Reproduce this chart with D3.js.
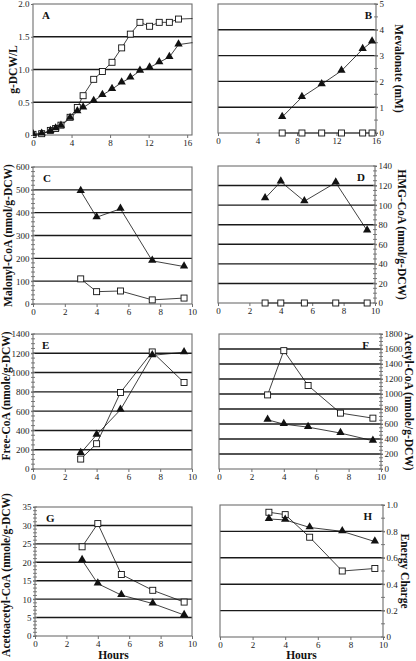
<!DOCTYPE html>
<html><head><meta charset="utf-8">
<script src="https://cdn.jsdelivr.net/npm/d3@7"></script>
<style>
html,body{margin:0;padding:0;background:#fff;}
svg{display:block;font-family:"Liberation Serif","Times New Roman",serif;}
</style></head>
<body>
<svg id="c" width="416" height="661"></svg>
<script>
// ---------- DATA ----------
const hoursA_sq = [0,0.9,1.8,2.35,2.9,3.85,4.6,5.2,6.3,7.2,8.2,9.2,10.1,11.1,12.1,13.1,14.15,15.1,17];
const dcwA_sq   = [0.01,0.02,0.07,0.1,0.15,0.27,0.42,0.6,0.85,0.97,1.11,1.33,1.54,1.72,1.66,1.72,1.72,1.77,1.78];
const hoursA_tri = [0,0.9,1.8,2.35,2.9,3.85,4.6,5.2,6.3,7.2,8.2,9.2,10.1,11.1,12.1,13.1,14.15,15.1,17];
const dcwA_tri   = [0.01,0.02,0.06,0.1,0.14,0.26,0.36,0.42,0.52,0.61,0.7,0.8,0.875,0.98,1.03,1.11,1.19,1.38,1.42];

const hoursB = [6.5,8.5,10.5,12.5,14.65,15.6];
const mevB_tri = [0.62,1.39,1.89,2.41,3.25,3.54];
const mevB_sq  = [0,0,0,0,0,0];

const hoursCoA = [3,4,5.5,7.5,9.5];
const malonyl_tri = [495,380,417,189,164];
const malonyl_sq  = [110,54,57,18,26];
const hmg_tri = [107,124,104,123,74];
const hmg_sq  = [0,0,0,0,0];
const freeCoA_tri = [165,355,614,1179,1210];
const freeCoA_sq  = [103,262,793,1214,897];
const acetyl_sq  = [988,1578,1113,745,678];
const acetyl_tri = [656,598,558,479,377];
const acetoacetyl_sq  = [24.2,30.5,16.7,12.4,9.2];
const acetoacetyl_tri = [20.6,14.2,11.1,8.8,5.7];
const energy_sq  = [0.945,0.927,0.756,0.50,0.519];
const energy_tri = [0.894,0.887,0.83,0.80,0.723];

const ticksA_x = [0,4,8,12,16], ticksA_y = [0,0.5,1.0,1.5,2.0];
const ticksA_ylab = ["0","0.5","1.0","1.5","2.0"];
const ticksB_y = [0,1,2,3,4,5];
const ticksHours = [0,2,4,6,8,10];
const ticksC_y = [0,100,200,300,400,500,600];
const ticksD_y = [0,20,40,60,80,100,120,140];
const ticksE_y = [0,200,400,600,800,1000,1200,1400];
const ticksF_y = [0,200,400,600,800,1000,1200,1400,1600,1800];
const ticksG_y = [0,5,10,15,20,25,30,35];
const ticksH_y = [0,0.2,0.4,0.6,0.8,1.0];
const ticksH_ylab = ["0","0.2","0.4","0.6","0.8","1.0"];

// ---------- PANELS ----------
const panels = [
 {id:"A", box:[33,192,4,135], xd:[0,16.5], yd:[0,2], xt:ticksA_x, yt:ticksA_y, ylab:ticksA_ylab, side:"left", minor:null,
  title:"g-DCW/L", tx:13, lx:9, series:[{x:hoursA_sq,y:dcwA_sq,m:"sq"},{x:hoursA_tri,y:dcwA_tri,m:"tri"}]},
 {id:"B", box:[218,376,4,133], xd:[0,16], yd:[0,5], xt:ticksA_x, yt:ticksB_y, side:"right", minor:0.5,
  title:"Mevalonate (mM)", tx:399, lx:4, series:[{x:hoursB,y:mevB_sq,m:"sq"},{x:hoursB,y:mevB_tri,m:"tri"}]},
 {id:"C", box:[33,192,167,304], xd:[0,10], yd:[0,600], xt:ticksHours, yt:ticksC_y, side:"left", minor:20,
  title:"Malonyl-CoA (nmol/g-DCW)", tx:8, lx:10, series:[{x:hoursCoA,y:malonyl_sq,m:"sq"},{x:hoursCoA,y:malonyl_tri,m:"tri"}]},
 {id:"D", box:[218,375,166,303], xd:[0,10], yd:[0,140], xt:ticksHours, yt:ticksD_y, side:"right", minor:5,
  title:"HMG-CoA (nmol/g-DCW)", tx:402, lx:10, series:[{x:hoursCoA,y:hmg_sq,m:"sq"},{x:hoursCoA,y:hmg_tri,m:"tri"}]},
 {id:"E", box:[33,192,334,469], xd:[0,10], yd:[0,1400], xt:ticksHours, yt:ticksE_y, side:"left", minor:50,
  title:"Free-CoA (nmole/g-DCW)", tx:6, ty:396, lx:9, series:[{x:hoursCoA,y:freeCoA_sq,m:"sq"},{x:hoursCoA,y:freeCoA_tri,m:"tri"}]},
 {id:"F", box:[219,381,334,469], xd:[0,10], yd:[0,1800], xt:ticksHours, yt:ticksF_y, side:"right", minor:50,
  title:"Acetyl-CoA (nmole/g-DCW)", tx:409, lx:12, series:[{x:hoursCoA,y:acetyl_sq,m:"sq"},{x:hoursCoA,y:acetyl_tri,m:"tri"}]},
 {id:"G", box:[35,192,507,636], xd:[0,10], yd:[0,35], xt:ticksHours, yt:ticksG_y, side:"left", minor:1,
  title:"Acetoacetyl-CoA (nmole/g-DCW)", tx:6, ty:575, lx:11, series:[{x:hoursCoA,y:acetoacetyl_sq,m:"sq"},{x:hoursCoA,y:acetoacetyl_tri,m:"tri"}], xtitle:"Hours"},
 {id:"H", box:[220,383,505,637], xd:[0,10], yd:[0,1], xt:ticksHours, yt:ticksH_y, ylab:ticksH_ylab, side:"right", minor:0.1,
  title:"Energy Charge", tx:405, lx:11, series:[{x:hoursCoA,y:energy_sq,m:"sq"},{x:hoursCoA,y:energy_tri,m:"tri"}], xtitle:"Hours"}
];

const svg = d3.select("#c");
const defs = svg.append("defs");
const fmtDefault = d3.format("d");
const TICKFONT = 9;

panels.forEach(p=>{
  const [x0,x1,y0,y1] = p.box;
  const xs = d3.scaleLinear().domain(p.xd).range([x0,x1]);
  const ys = d3.scaleLinear().domain(p.yd).range([y1,y0]);
  const g = svg.append("g");
  defs.append("clipPath").attr("id","clip"+p.id).append("rect")
    .attr("x",x0).attr("y",y0-6).attr("width",x1-x0+0.5).attr("height",y1-y0+12);

  // gridlines (interior)
  g.append("g").selectAll("line").data(p.yt.filter(v=>v>p.yd[0] && v<p.yd[1])).join("line")
    .attr("x1",x0).attr("x2",x1).attr("y1",d=>ys(d)).attr("y2",d=>ys(d))
    .attr("stroke","#1a1a1a").attr("stroke-width",1.4);

  // frame
  g.append("rect").attr("x",x0).attr("y",y0).attr("width",x1-x0).attr("height",y1-y0)
    .attr("fill","none").attr("stroke","#6e6e6e").attr("stroke-width",1.1);

  // x axis
  const xa = d3.axisBottom(xs).tickValues(p.xt).tickSize(3).tickPadding(1.5).tickFormat(fmtDefault);
  const xg = g.append("g").attr("transform",`translate(0,${y1})`).call(xa);
  xg.select(".domain").remove();
  xg.selectAll("line").attr("stroke","#6e6e6e");
  xg.selectAll("text").attr("font-size",TICKFONT).attr("fill","#222").attr("font-family","Liberation Serif");

  // y axis
  const yFmt = p.ylab ? ((d,i)=>p.ylab[i]) : fmtDefault;
  const ax = p.side==="left" ? d3.axisLeft(ys) : d3.axisRight(ys);
  ax.tickValues(p.yt).tickSize(2).tickPadding(1.5).tickFormat(yFmt);
  const yg = g.append("g").attr("transform",`translate(${p.side==="left"?x0:x1},0)`).call(ax);
  yg.select(".domain").remove();
  yg.selectAll("line").attr("stroke","#6e6e6e");
  yg.selectAll("text").attr("font-size",TICKFONT).attr("fill","#222").attr("font-family","Liberation Serif");

  // minor ticks
  if(p.minor){
    const n = Math.round((p.yd[1]-p.yd[0])/p.minor);
    const mt = d3.range(n+1).map(i=>p.yd[0]+i*p.minor);
    const ax0 = p.side==="left"?x0:x1;
    g.append("g").selectAll("line").data(mt).join("line")
      .attr("x1",ax0-2).attr("x2",ax0+2).attr("y1",d=>ys(d)).attr("y2",d=>ys(d))
      .attr("stroke","#6e6e6e").attr("stroke-width",0.9);
  }

  // series
  const sg = g.append("g").attr("clip-path",`url(#clip${p.id})`);
  const line = d3.line().x(d=>xs(d[0])).y(d=>ys(d[1]));
  p.series.slice().reverse().forEach(s=>{
    const pts = s.x.map((v,i)=>[v,s.y[i]]);
    sg.append("path").attr("d",line(pts)).attr("fill","none").attr("stroke","#111").attr("stroke-width",0.8);
  });
  p.series.forEach(s=>{
    const pts = s.x.map((v,i)=>[v,s.y[i]]);
    if(s.m==="sq"){
      sg.append("g").selectAll("rect").data(pts).join("rect")
        .attr("x",d=>xs(d[0])-3).attr("y",d=>ys(d[1])-3).attr("width",6).attr("height",6)
        .attr("fill","#fff").attr("stroke","#111").attr("stroke-width",0.9);
    } else {
      const tri = d3.symbol().type(d3.symbolTriangle).size(30);
      sg.append("g").selectAll("path").data(pts).join("path")
        .attr("d",tri).attr("transform",d=>`translate(${xs(d[0])},${ys(d[1])-0.5})`)
        .attr("fill","#111");
    }
  });

  // panel letter
  g.append("text").text(p.id)
    .attr("x", p.side==="left"? x0+p.lx : x1-p.lx)
    .attr("y", y0+15)
    .attr("text-anchor", p.side==="left"?"start":"end")
    .attr("font-size",11).attr("font-weight","bold").attr("fill","#111");

  // axis title
  const cy = p.ty || (y0+y1)/2;
  g.append("text").text(p.title)
    .attr("transform",`translate(${p.tx},${cy}) rotate(${p.side==="left"?-90:90})`)
    .attr("text-anchor","middle").attr("dominant-baseline","central")
    .attr("font-size",11.5).attr("font-weight","bold").attr("fill","#111");
  if(p.xtitle){
    g.append("text").text(p.xtitle)
      .attr("x",(x0+x1)/2).attr("y",659)
      .attr("text-anchor","middle")
      .attr("font-size",11.5).attr("font-weight","bold").attr("fill","#111");
  }
});
</script>
</body></html>
